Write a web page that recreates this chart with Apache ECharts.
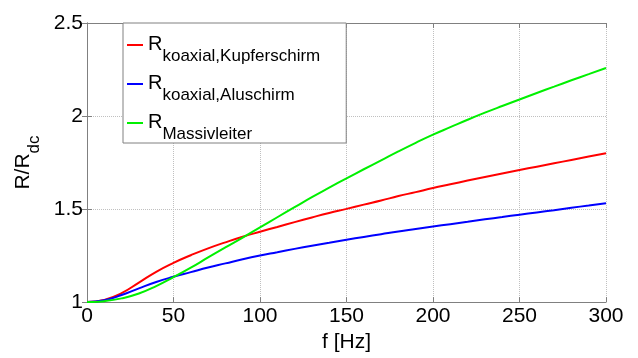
<!DOCTYPE html>
<html>
<head>
<meta charset="utf-8">
<script src="https://cdn.jsdelivr.net/npm/echarts@6/dist/echarts.min.js"></script>
<style>
  html, body { margin: 0; padding: 0; background: #fff; }
  #chart { width: 638px; height: 358px; }
</style>
</head>
<body>
<div id="chart"></div>
<script>
// frequency in Hz
var freq = [0, 10, 20, 30, 40, 50, 60, 70, 80, 90, 100, 110, 120, 130, 140, 150,
  160, 170, 180, 190, 200, 210, 220, 230, 240, 250, 260, 270, 280, 290, 300]

// R/Rdc values
var kupferschirm = [1.000, 1.012, 1.048, 1.105, 1.163, 1.211, 1.252, 1.289, 1.321, 1.351, 1.378,
  1.404, 1.430, 1.455, 1.479, 1.501, 1.524, 1.546, 1.570, 1.591, 1.613, 1.633, 1.653, 1.672,
  1.691, 1.710, 1.728, 1.746, 1.764, 1.782, 1.800]
var aluschirm = [1.000, 1.010, 1.038, 1.074, 1.108, 1.136, 1.161, 1.186, 1.208, 1.230, 1.250,
  1.268, 1.286, 1.303, 1.319, 1.335, 1.350, 1.365, 1.380, 1.393, 1.406, 1.419, 1.432, 1.445,
  1.457, 1.470, 1.482, 1.494, 1.507, 1.519, 1.531]
var massivleiter = [1.000, 1.005, 1.020, 1.046, 1.086, 1.134, 1.185, 1.240, 1.294, 1.347, 1.402,
  1.456, 1.510, 1.564, 1.615, 1.665, 1.714, 1.762, 1.810, 1.856, 1.900, 1.940, 1.980, 2.018,
  2.054, 2.089, 2.124, 2.158, 2.192, 2.225, 2.258]

var seriesNames = ['koaxial,Kupferschirm', 'koaxial,Aluschirm', 'Massivleiter']
var seriesColors = ['#ff0000', '#0000ff', '#00f000']
var xTicks = { min: 0, max: 300, interval: 50 }
var yTicks = { min: 1, max: 2.5, interval: 0.5 }

var font = 'Liberation Sans'
var axisGray = '#808080'

function pairs (ys) {
  return freq.map(function (f, i) { return [f, ys[i]] })
}

var chart = echarts.init(document.getElementById('chart'))

var frameAxis = {
  show: true,
  axisLine: { show: true, lineStyle: { color: axisGray, width: 1 } },
  axisTick: { show: true, inside: true, length: 5, lineStyle: { color: axisGray } },
  axisLabel: { show: false },
  splitLine: { show: false }
}

chart.setOption({
  animation: false,
  textStyle: { fontFamily: font },
  grid: { left: 87, right: 32, top: 23, bottom: 48 },
  legend: {
    left: 123,
    top: 23,
    orient: 'vertical',
    data: seriesNames,
    icon: 'rect',
    itemWidth: 16,
    itemHeight: 2,
    itemGap: 8,
    padding: [11, 26, 0, 4],
    borderColor: axisGray,
    borderWidth: 1,
    backgroundColor: '#fff',
    formatter: function (name) {
      return '{r|R}{s|' + name + '}'
    },
    textStyle: {
      rich: {
        r: { fontSize: 20, fontFamily: font, color: '#000', lineHeight: 22, verticalAlign: 'top' },
        s: { fontSize: 17, fontFamily: font, color: '#000', lineHeight: 18, padding: [14, 0, 0, 0], verticalAlign: 'top' }
      }
    }
  },
  xAxis: [{
    type: 'value',
    min: xTicks.min,
    max: xTicks.max,
    interval: xTicks.interval,
    name: 'f [Hz]',
    nameLocation: 'middle',
    nameGap: 27,
    nameTextStyle: { fontSize: 21, color: '#000', fontFamily: font },
    axisLine: { show: true, onZero: false, lineStyle: { color: axisGray } },
    axisTick: { show: true, inside: true, length: 5, lineStyle: { color: axisGray } },
    axisLabel: { fontSize: 21, color: '#000', margin: 4, fontFamily: font },
    splitLine: { show: true, lineStyle: { color: '#c0c0c0', type: 'dotted' } }
  }, Object.assign({ type: 'value', position: 'top', min: xTicks.min, max: xTicks.max, interval: xTicks.interval }, frameAxis)],
  yAxis: [{
    type: 'value',
    min: yTicks.min,
    max: yTicks.max,
    interval: yTicks.interval,
    name: '{a|R/R}{b|dc}',
    nameLocation: 'middle',
    nameGap: 45,
    nameTextStyle: {
      rich: {
        a: { fontSize: 21, color: '#000', fontFamily: font, lineHeight: 24, verticalAlign: 'top' },
        b: { fontSize: 17, color: '#000', fontFamily: font, lineHeight: 18, padding: [13, 0, 0, 0], verticalAlign: 'top' }
      }
    },
    axisLine: { show: true, onZero: false, lineStyle: { color: axisGray } },
    axisTick: { show: true, inside: true, length: 5, lineStyle: { color: axisGray } },
    axisLabel: {
      fontSize: 21,
      color: '#000',
      margin: 4,
      fontFamily: font,
      formatter: function (v) { return String(v) }
    },
    splitLine: { show: true, lineStyle: { color: '#c0c0c0', type: 'dotted' } }
  }, Object.assign({ type: 'value', position: 'right', min: yTicks.min, max: yTicks.max, interval: yTicks.interval }, frameAxis)],
  series: [
    { name: seriesNames[0], data: pairs(kupferschirm) },
    { name: seriesNames[1], data: pairs(aluschirm) },
    { name: seriesNames[2], data: pairs(massivleiter) }
  ].map(function (s, i) {
    return Object.assign({
      type: 'line',
      smooth: 0.5,
      showSymbol: false,
      color: seriesColors[i],
      lineStyle: { width: 2, color: seriesColors[i] },
      z: 3 + i
    }, s)
  })
})
</script>
</body>
</html>
